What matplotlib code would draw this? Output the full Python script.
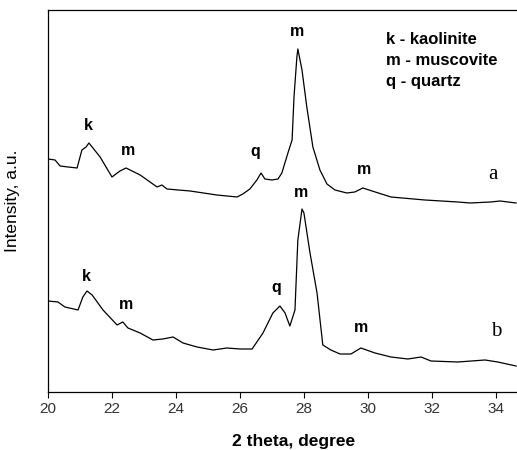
import matplotlib
matplotlib.use("Agg")
import matplotlib.pyplot as plt

plt.rcParams['font.family'] = ['Liberation Sans', 'DejaVu Sans']

# curve a (upper)
theta_a = [20.00, 20.22, 20.38, 20.63, 20.91, 21.06, 21.19, 21.28, 21.63, 22.00,
           22.25, 22.44, 22.88, 23.19, 23.41, 23.56, 23.72, 24.44, 25.28, 25.59,
           25.91, 26.09, 26.31, 26.53, 26.66, 26.78, 27.00, 27.19, 27.31, 27.50,
           27.63, 27.69, 27.78, 27.81, 27.94, 28.09, 28.28, 28.50, 28.72, 28.97,
           29.34, 29.59, 29.84, 30.13, 30.72, 31.78, 32.81, 33.19, 33.84, 34.13, 34.63]
int_a = [233, 232, 226, 225, 224, 242, 245, 249, 235, 215,
         221, 224, 217, 210, 205, 207, 203, 201, 197, 196,
         195, 198, 203, 212, 219, 213, 212, 213, 219, 239,
         252, 295, 335, 343, 322, 285, 245, 222, 208, 202,
         199, 200, 204, 201, 195, 192, 190, 189, 190, 191, 189]

# curve b (lower)
theta_b = [20.00, 20.31, 20.53, 20.94, 21.09, 21.22, 21.38, 21.72, 22.16, 22.34,
           22.50, 22.88, 23.28, 23.59, 23.91, 24.22, 24.66, 25.16, 25.59, 26.00,
           26.38, 26.72, 27.03, 27.25, 27.41, 27.56, 27.72, 27.81, 27.94, 28.00,
           28.19, 28.41, 28.59, 28.84, 29.13, 29.47, 29.78, 30.22, 30.72, 31.25,
           31.66, 31.97, 32.81, 33.66, 34.06, 34.63]
int_b = [91, 90, 85, 82, 95, 101, 97, 82, 67, 70,
         64, 59, 52, 53, 55, 49, 45, 42, 44, 43,
         43, 59, 79, 86, 79, 66, 82, 152, 183, 179,
         139, 99, 47, 42, 38, 38, 44, 39, 35, 33,
         35, 31, 30, 32, 30, 26]

# peak labels: (text, theta, intensity)
peaks_a = [('k', 21.25, 266), ('m', 22.5, 241), ('q', 26.47, 240),
           ('m', 27.78, 360), ('m', 29.88, 222)]
peaks_b = [('k', 21.19, 115), ('m', 22.44, 87), ('q', 27.13, 104),
           ('m', 27.91, 199), ('m', 29.78, 64)]
legend_lines = ['k - kaolinite', 'm - muscovite', 'q - quartz']
legend_y = [352, 331, 310]

fig = plt.figure(figsize=(5.17, 4.5), dpi=100)
ax = fig.add_axes([0.0928, 0.1289, 0.9072, 0.8489])

ax.plot(theta_a, int_a, color='black', lw=0.9)
ax.plot(theta_b, int_b, color='black', lw=0.9)

for txt, x, y in peaks_a + peaks_b:
    ax.text(x, y, txt, fontsize=11.5, fontweight='bold', ha='center', va='center')

for txt, y in zip(legend_lines, legend_y):
    ax.text(30.56, y, txt, fontsize=12, fontweight='bold', ha='left', va='center')

ax.text(33.91, 217, 'a', family='Liberation Serif', fontsize=15, ha='center', va='center')
ax.text(34.0, 60, 'b', family='Liberation Serif', fontsize=15, ha='center', va='center')

ax.set_xlim(20, 34.66)
ax.set_ylim(0, 382)
ax.set_xticks([20, 22, 24, 26, 28, 30, 32, 34])
ax.set_yticks([])
ax.tick_params(axis='x', direction='out', length=4, labelsize=11, labelcolor='#333333')
ax.spines['right'].set_visible(False)
for s in ['left', 'bottom', 'top']:
    ax.spines[s].set_linewidth(0.9)

ax.set_xlabel('2 theta, degree', fontsize=12.5, fontweight='bold')
ax.xaxis.set_label_coords(0.524, -0.11)
ax.set_ylabel('Intensity, a.u.', fontsize=12.5)
ax.yaxis.set_label_coords(-0.06, 0.5)

fig.savefig('out.png', dpi=100)
